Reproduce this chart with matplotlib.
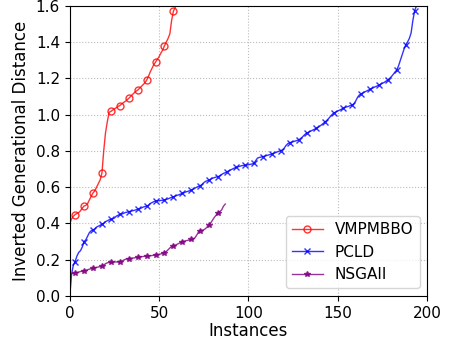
import numpy as np
import matplotlib
matplotlib.use("Agg")
import matplotlib.pyplot as plt

# IGD values sorted per algorithm (one value per instance)
vmpmbbo = [0.40, 0.425, 0.44, 0.449, 0.455, 0.46, 0.47, 0.485, 0.496, 0.50,
           0.51, 0.53, 0.55, 0.568, 0.58, 0.60, 0.62, 0.64, 0.678, 0.80,
           0.90, 0.96, 1.013, 1.018, 1.025, 1.032, 1.038, 1.045, 1.05, 1.058,
           1.066, 1.073, 1.081, 1.09, 1.10, 1.11, 1.12, 1.129, 1.135, 1.145,
           1.155, 1.165, 1.175, 1.19, 1.21, 1.235, 1.255, 1.275, 1.29, 1.305,
           1.32, 1.34, 1.356, 1.38, 1.40, 1.42, 1.445, 1.52, 1.571, 1.59]

pcld = [0.00, 0.12, 0.17, 0.19, 0.22, 0.24, 0.25, 0.27, 0.30, 0.31,
        0.33, 0.35, 0.36, 0.364, 0.37, 0.38, 0.385, 0.39, 0.397, 0.40,
        0.41, 0.415, 0.42, 0.423, 0.425, 0.43, 0.44, 0.445, 0.450, 0.452,
        0.455, 0.46, 0.462, 0.465, 0.467, 0.47, 0.472, 0.475, 0.478, 0.48,
        0.485, 0.49, 0.493, 0.496, 0.50, 0.51, 0.515, 0.52, 0.524, 0.525,
        0.526, 0.527, 0.528, 0.529, 0.532, 0.536, 0.54, 0.544, 0.547, 0.55,
        0.555, 0.558, 0.562, 0.566, 0.57, 0.574, 0.577, 0.58, 0.584, 0.588,
        0.594, 0.60, 0.604, 0.608, 0.615, 0.625, 0.632, 0.636, 0.639, 0.645,
        0.65, 0.653, 0.656, 0.658, 0.663, 0.67, 0.676, 0.68, 0.685, 0.69,
        0.695, 0.70, 0.705, 0.709, 0.712, 0.715, 0.718, 0.72, 0.721, 0.722,
        0.724, 0.726, 0.728, 0.731, 0.745, 0.76, 0.764, 0.766, 0.768, 0.771,
        0.774, 0.777, 0.78, 0.783, 0.787, 0.79, 0.794, 0.798, 0.801, 0.806,
        0.815, 0.83, 0.84, 0.845, 0.848, 0.851, 0.854, 0.857, 0.86, 0.867,
        0.875, 0.885, 0.895, 0.90, 0.905, 0.91, 0.915, 0.92, 0.924, 0.93,
        0.937, 0.945, 0.953, 0.961, 0.97, 0.98, 0.992, 1.003, 1.010, 1.015,
        1.02, 1.025, 1.03, 1.035, 1.039, 1.043, 1.046, 1.05, 1.053, 1.06,
        1.075, 1.095, 1.108, 1.114, 1.12, 1.125, 1.13, 1.135, 1.139, 1.144,
        1.149, 1.154, 1.158, 1.163, 1.168, 1.173, 1.178, 1.185, 1.191, 1.20,
        1.21, 1.222, 1.235, 1.246, 1.27, 1.30, 1.33, 1.36, 1.384, 1.40,
        1.42, 1.45, 1.52, 1.573, 1.60, 1.63]

nsgaii = [0.12, 0.123, 0.126, 0.128, 0.13, 0.132, 0.135, 0.137, 0.139, 0.142,
          0.145, 0.148, 0.151, 0.153, 0.155, 0.158, 0.16, 0.162, 0.165, 0.17,
          0.178, 0.183, 0.185, 0.186, 0.187, 0.187, 0.188, 0.188, 0.189, 0.192,
          0.197, 0.202, 0.205, 0.206, 0.208, 0.209, 0.21, 0.212, 0.213, 0.215,
          0.216, 0.218, 0.219, 0.220, 0.221, 0.222, 0.223, 0.225, 0.226, 0.228,
          0.23, 0.232, 0.236, 0.239, 0.245, 0.255, 0.265, 0.272, 0.276, 0.28,
          0.285, 0.29, 0.295, 0.299, 0.302, 0.305, 0.307, 0.309, 0.312, 0.315,
          0.32, 0.335, 0.352, 0.360, 0.362, 0.365, 0.372, 0.382, 0.391, 0.405,
          0.42, 0.435, 0.447, 0.459, 0.465, 0.475, 0.495, 0.507]

fig = plt.figure(figsize=(4.53, 3.43), dpi=100)
ax = fig.add_axes([0.154, 0.137, 0.789, 0.846])

ax.plot(np.arange(len(vmpmbbo)), vmpmbbo, color="red", lw=1, alpha=0.8,
        marker="o", ms=5, mfc="none", markevery=(3, 5), label="VMPMBBO")
ax.plot(np.arange(len(pcld)), pcld, color="blue", lw=1, alpha=0.8,
        marker="x", ms=4.5, markevery=(3, 5), label="PCLD")
ax.plot(np.arange(len(nsgaii)), nsgaii, color="purple", lw=1, alpha=0.8,
        marker="*", ms=4, markevery=(3, 5), label="NSGAII")

ax.set_xlim(0, 200)
ax.set_ylim(0, 1.6)
ax.set_xticks([0, 50, 100, 150, 200])
ax.set_yticks([0.0, 0.2, 0.4, 0.6, 0.8, 1.0, 1.2, 1.4, 1.6])
ax.tick_params(labelsize=11)
ax.grid(True, linestyle=":", color="#bbbbbb", linewidth=0.8)
ax.set_xlabel("Instances", fontsize=12, labelpad=1)
ax.set_ylabel("Inverted Generational Distance", fontsize=12)
ax.legend(loc="lower right", fontsize=11)

fig.savefig("out.png", dpi=100)
